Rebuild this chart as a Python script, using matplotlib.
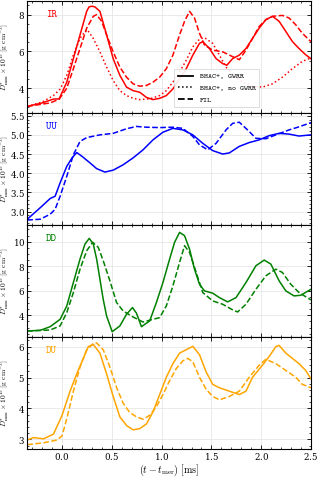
import os
import matplotlib
matplotlib.use("Agg")
import matplotlib.pyplot as plt
from matplotlib.font_manager import FontProperties
from matplotlib.ticker import MultipleLocator
from matplotlib.lines import Line2D

plt.rcParams["mathtext.fontset"] = "cm"
plt.rcParams["font.family"] = "serif"
plt.rcParams["font.serif"] = ["DejaVu Serif"]
plt.rcParams["axes.formatter.use_mathtext"] = True

TT_FILE = os.path.join(matplotlib.get_data_path(), "fonts", "ttf", "cmtt10.ttf")

# ---------------- data ----------------
# IR
ir_gwrr_t = [-0.35, -0.2, -0.087, -0.03, 0.047, 0.113, 0.18, 0.247, 0.27, 0.3, 0.33, 0.38, 0.447, 0.513, 0.58, 0.647,
             0.713, 0.78, 0.847, 0.913, 0.98, 1.047, 1.113, 1.18, 1.247, 1.313, 1.38, 1.413, 1.48, 1.547, 1.613,
             1.655, 1.713, 1.78, 1.847, 1.913, 1.98, 2.047, 2.113, 2.18, 2.247, 2.313, 2.38, 2.44, 2.5]
ir_gwrr_d = [3.01, 3.2, 3.41, 3.42, 4.33, 5.61, 6.9, 8.18, 8.42, 8.46, 8.42, 8.18, 6.9, 5.61, 4.7, 4.06,
             3.87, 3.78, 3.5, 3.38, 3.45, 3.6, 3.96, 4.51, 5.06, 5.8, 6.44, 6.53, 6.16, 5.61, 5.34,
             5.25, 5.61, 5.8, 6.16, 6.71, 7.27, 7.73, 7.91, 7.64, 7.09, 6.54, 6.16, 5.85, 5.6]
ir_nogw_t = [-0.35, -0.2, -0.087, -0.02, 0.047, 0.113, 0.18, 0.23, 0.253, 0.313, 0.38, 0.447, 0.513, 0.58, 0.647,
             0.713, 0.78, 0.88, 0.98, 1.047, 1.113, 1.18, 1.247, 1.313, 1.38, 1.43, 1.513, 1.58, 1.647, 1.713,
             1.813, 1.913, 2.013, 2.113, 2.213, 2.313, 2.413, 2.5]
ir_nogw_d = [3.01, 3.25, 3.6, 3.95, 4.7, 5.8, 6.71, 7.08, 7.18, 6.71, 5.98, 5.15, 4.42, 3.87, 3.6,
             3.45, 3.38, 3.42, 3.6, 3.87, 4.33, 4.88, 5.52, 6.25, 6.67, 6.75, 6.44, 5.8, 5.15, 4.7,
             4.33, 4.11, 4.06, 4.24, 4.6, 5.06, 5.46, 5.65]
ir_fil_t = [-0.35, -0.12, -0.03, 0.047, 0.113, 0.18, 0.247, 0.313, 0.347, 0.397, 0.447, 0.513, 0.58, 0.647, 0.713,
            0.78, 0.847, 0.913, 0.98, 1.047, 1.113, 1.18, 1.23, 1.28, 1.33, 1.38, 1.43, 1.513, 1.613, 1.7,
            1.78, 1.847, 1.913, 1.98, 2.047, 2.113, 2.213, 2.28, 2.347, 2.413, 2.5]
ir_fil_d = [3.01, 3.2, 3.4, 4.0, 5.06, 6.16, 7.27, 7.91, 8.0, 7.64, 6.9, 5.98, 5.15, 4.6, 4.24,
            4.11, 4.15, 4.33, 4.6, 5.06, 5.8, 6.9, 7.64, 8.18, 7.82, 6.99, 6.35, 6.07, 5.98, 5.75,
            5.55, 6.07, 6.71, 7.36, 7.73, 7.91, 7.96, 7.82, 7.45, 6.99, 6.53]

# UU
uu_gwrr_t = [-0.35, -0.22, -0.12, -0.07, -0.02, 0.047, 0.1, 0.147, 0.2, 0.28, 0.347, 0.43, 0.513, 0.613, 0.713,
             0.813, 0.913, 1.013, 1.113, 1.213, 1.313, 1.413, 1.513, 1.613, 1.68, 1.78, 1.88, 1.98, 2.08,
             2.18, 2.28, 2.38, 2.5]
uu_gwrr_d = [2.8, 3.1, 3.34, 3.4, 3.75, 4.18, 4.4, 4.54, 4.44, 4.27, 4.12, 4.03, 4.08, 4.22, 4.4,
             4.61, 4.87, 5.07, 5.17, 5.13, 5.0, 4.78, 4.59, 4.5, 4.53, 4.7, 4.8, 4.87, 4.98,
             5.04, 5.02, 4.97, 5.0]
uu_fil_t = [-0.35, -0.22, -0.12, -0.07, -0.02, 0.047, 0.113, 0.18, 0.247, 0.38, 0.513, 0.647, 0.747, 0.847,
            0.98, 1.113, 1.213, 1.313, 1.38, 1.463, 1.547, 1.647, 1.713, 1.78, 1.863, 1.947, 2.047, 2.147,
            2.28, 2.38, 2.5]
uu_fil_d = [2.78, 2.8, 2.93, 3.06, 3.4, 3.92, 4.48, 4.83, 4.93, 5.0, 5.04, 5.16, 5.22, 5.2,
            5.19, 5.2, 5.17, 4.96, 4.74, 4.61, 4.78, 5.13, 5.3, 5.33, 5.13, 4.91, 4.9, 5.0,
            5.13, 5.21, 5.32]

# DD
dd_gwrr_t = [-0.35, -0.22, -0.12, -0.02, 0.047, 0.113, 0.18, 0.23, 0.273, 0.313, 0.347, 0.38, 0.413, 0.447,
             0.503, 0.58, 0.647, 0.707, 0.747, 0.797, 0.88, 0.947, 1.013, 1.08, 1.13, 1.18, 1.23, 1.28,
             1.33, 1.38, 1.43, 1.513, 1.58, 1.663, 1.747, 1.847, 1.947, 2.03, 2.097, 2.18, 2.247, 2.33,
             2.397, 2.5]
dd_gwrr_d = [2.72, 2.77, 3.07, 3.67, 4.76, 6.67, 8.58, 9.81, 10.27, 9.81, 8.58, 6.94, 5.3, 3.94,
             2.66, 3.13, 4.08, 4.63, 4.17, 3.07, 3.54, 5.04, 6.67, 8.58, 9.95, 10.76, 10.49, 9.4,
             7.76, 6.53, 5.99, 5.8, 5.44, 5.09, 5.44, 6.67, 8.04, 8.5, 8.17, 6.81, 5.99, 5.58,
             5.63, 6.12]
dd_fil_t = [-0.35, -0.12, -0.02, 0.047, 0.113, 0.18, 0.247, 0.307, 0.363, 0.413, 0.48, 0.547, 0.613, 0.713,
            0.813, 0.913, 0.98, 1.047, 1.113, 1.18, 1.23, 1.28, 1.347, 1.413, 1.513, 1.613, 1.713, 1.763,
            1.847, 1.947, 2.047, 2.147, 2.213, 2.297, 2.38, 2.5]
dd_fil_d = [2.72, 2.8, 3.13, 4.22, 5.85, 7.76, 9.26, 9.95, 9.54, 8.45, 6.81, 5.04, 4.35, 3.86,
            3.45, 3.67, 3.81, 4.76, 6.4, 8.31, 9.67, 9.13, 7.49, 5.85, 5.17, 4.9, 4.44, 4.27,
            4.9, 6.12, 7.22, 7.76, 7.49, 6.53, 5.85, 5.25]

# DU
du_gwrr_t = [-0.35, -0.287, -0.187, -0.087, 0.0, 0.08, 0.147, 0.213, 0.263, 0.313, 0.38, 0.447, 0.513, 0.58,
             0.647, 0.713, 0.78, 0.847, 0.913, 0.98, 1.047, 1.113, 1.18, 1.247, 1.313, 1.38, 1.447, 1.513,
             1.58, 1.68, 1.78, 1.847, 1.913, 2.013, 2.08, 2.147, 2.18, 2.247, 2.313, 2.38, 2.447, 2.5]
du_gwrr_d = [2.98, 3.06, 3.02, 3.17, 3.78, 4.56, 5.12, 5.62, 6.0, 6.07, 5.79, 5.12, 4.39, 3.73,
             3.45, 3.31, 3.35, 3.5, 3.89, 4.45, 5.01, 5.45, 5.79, 5.9, 6.01, 5.74, 5.18, 4.78,
             4.67, 4.56, 4.45, 4.56, 5.01, 5.4, 5.68, 6.0, 6.04, 5.79, 5.62, 5.45, 5.23, 4.96]
du_fil_t = [-0.35, -0.187, -0.053, 0.0, 0.047, 0.113, 0.18, 0.247, 0.313, 0.347, 0.413, 0.48, 0.547, 0.613,
            0.68, 0.747, 0.813, 0.88, 0.947, 1.013, 1.08, 1.147, 1.213, 1.263, 1.313, 1.38, 1.447, 1.513,
            1.58, 1.68, 1.78, 1.88, 1.98, 2.047, 2.147, 2.247, 2.347, 2.413, 2.5]
du_fil_d = [2.83, 2.89, 2.98, 3.12, 3.67, 4.56, 5.34, 5.9, 6.1, 6.12, 5.9, 5.34, 4.68, 4.17,
            3.87, 3.73, 3.65, 3.78, 4.06, 4.45, 4.9, 5.29, 5.54, 5.62, 5.51, 5.01, 4.62, 4.39,
            4.28, 4.39, 4.56, 5.01, 5.4, 5.59, 5.45, 5.23, 5.01, 4.78, 4.67]

panel_names = ["IR", "UU", "DD", "DU"]
panel_colors = ["#ff0000", "#0000ff", "#008000", "#ffa500"]
legend_labels = ["BHAC+, GWRR", "BHAC+, no GWRR", "FIL"]
xlabel = r"$(t - t_{\rm mer})\ [\rm ms]$"
ylabel = r"$D^{*}_{\rm max}\times 10^{15}\ [\rm g\ cm^{-3}]$"

ylims = [(2.63, 8.72), (2.64, 5.56), (2.2, 11.33), (2.68, 6.3)]
ymaj = [2, 0.5, 2, 1]
ymin = [0.5, 0.1, 0.5, 0.2]

fig, axes = plt.subplots(4, 1, figsize=(3.17, 4.78), dpi=100, sharex=True)
fig.subplots_adjust(left=0.086, right=0.981, top=0.997, bottom=0.06, hspace=0)

series = [
    [(ir_gwrr_t, ir_gwrr_d, "-"), (ir_nogw_t, ir_nogw_d, ":"), (ir_fil_t, ir_fil_d, "--")],
    [(uu_gwrr_t, uu_gwrr_d, "-"), (uu_fil_t, uu_fil_d, "--")],
    [(dd_gwrr_t, dd_gwrr_d, "-"), (dd_fil_t, dd_fil_d, "--")],
    [(du_gwrr_t, du_gwrr_d, "-"), (du_fil_t, du_fil_d, "--")],
]

for i, ax in enumerate(axes):
    c = panel_colors[i]
    for t, d, ls in series[i]:
        ax.plot(t, d, color=c, ls=ls, lw=1.1)
    ax.set_xlim(-0.35, 2.5)
    ax.set_ylim(*ylims[i])
    ax.xaxis.set_major_locator(MultipleLocator(0.5))
    ax.xaxis.set_minor_locator(MultipleLocator(0.1))
    ax.yaxis.set_major_locator(MultipleLocator(ymaj[i]))
    ax.yaxis.set_minor_locator(MultipleLocator(ymin[i]))
    ax.tick_params(which="both", direction="in", top=True, right=True, labelsize=6.2, pad=1.5)
    ax.tick_params(which="major", length=3, width=0.6)
    ax.tick_params(which="minor", length=1.6, width=0.5)
    ax.grid(True, which="major", color="#e6e6e6", lw=0.6)
    ax.set_axisbelow(True)
    for s in ax.spines.values():
        s.set_linewidth(0.8)
    ax.set_ylabel(ylabel, fontsize=5.3)
    ax.yaxis.set_label_coords(-0.057, 0.5)
    ax.text(0.065, 0.88, panel_names[i], transform=ax.transAxes, color=c,
            fontproperties=FontProperties(fname=TT_FILE, size=7.5), ha="left", va="center")

axes[-1].set_xlabel(xlabel, fontsize=7.2, labelpad=0)

handles = [Line2D([], [], color="k", ls="-", lw=1.3),
           Line2D([], [], color="k", ls=":", lw=1.1),
           Line2D([], [], color="k", ls="--", lw=1.3)]
leg = axes[0].legend(handles, legend_labels, loc="lower left", bbox_to_anchor=(0.505, 0.02),
                     prop=FontProperties(fname=TT_FILE, size=5.5), frameon=True,
                     handlelength=2.0, handletextpad=0.8, labelspacing=0.55, borderpad=0.5,
                     fancybox=False, edgecolor="#cccccc", framealpha=0.9)
leg.get_frame().set_linewidth(0.5)

fig.savefig("out.png", dpi=100)
